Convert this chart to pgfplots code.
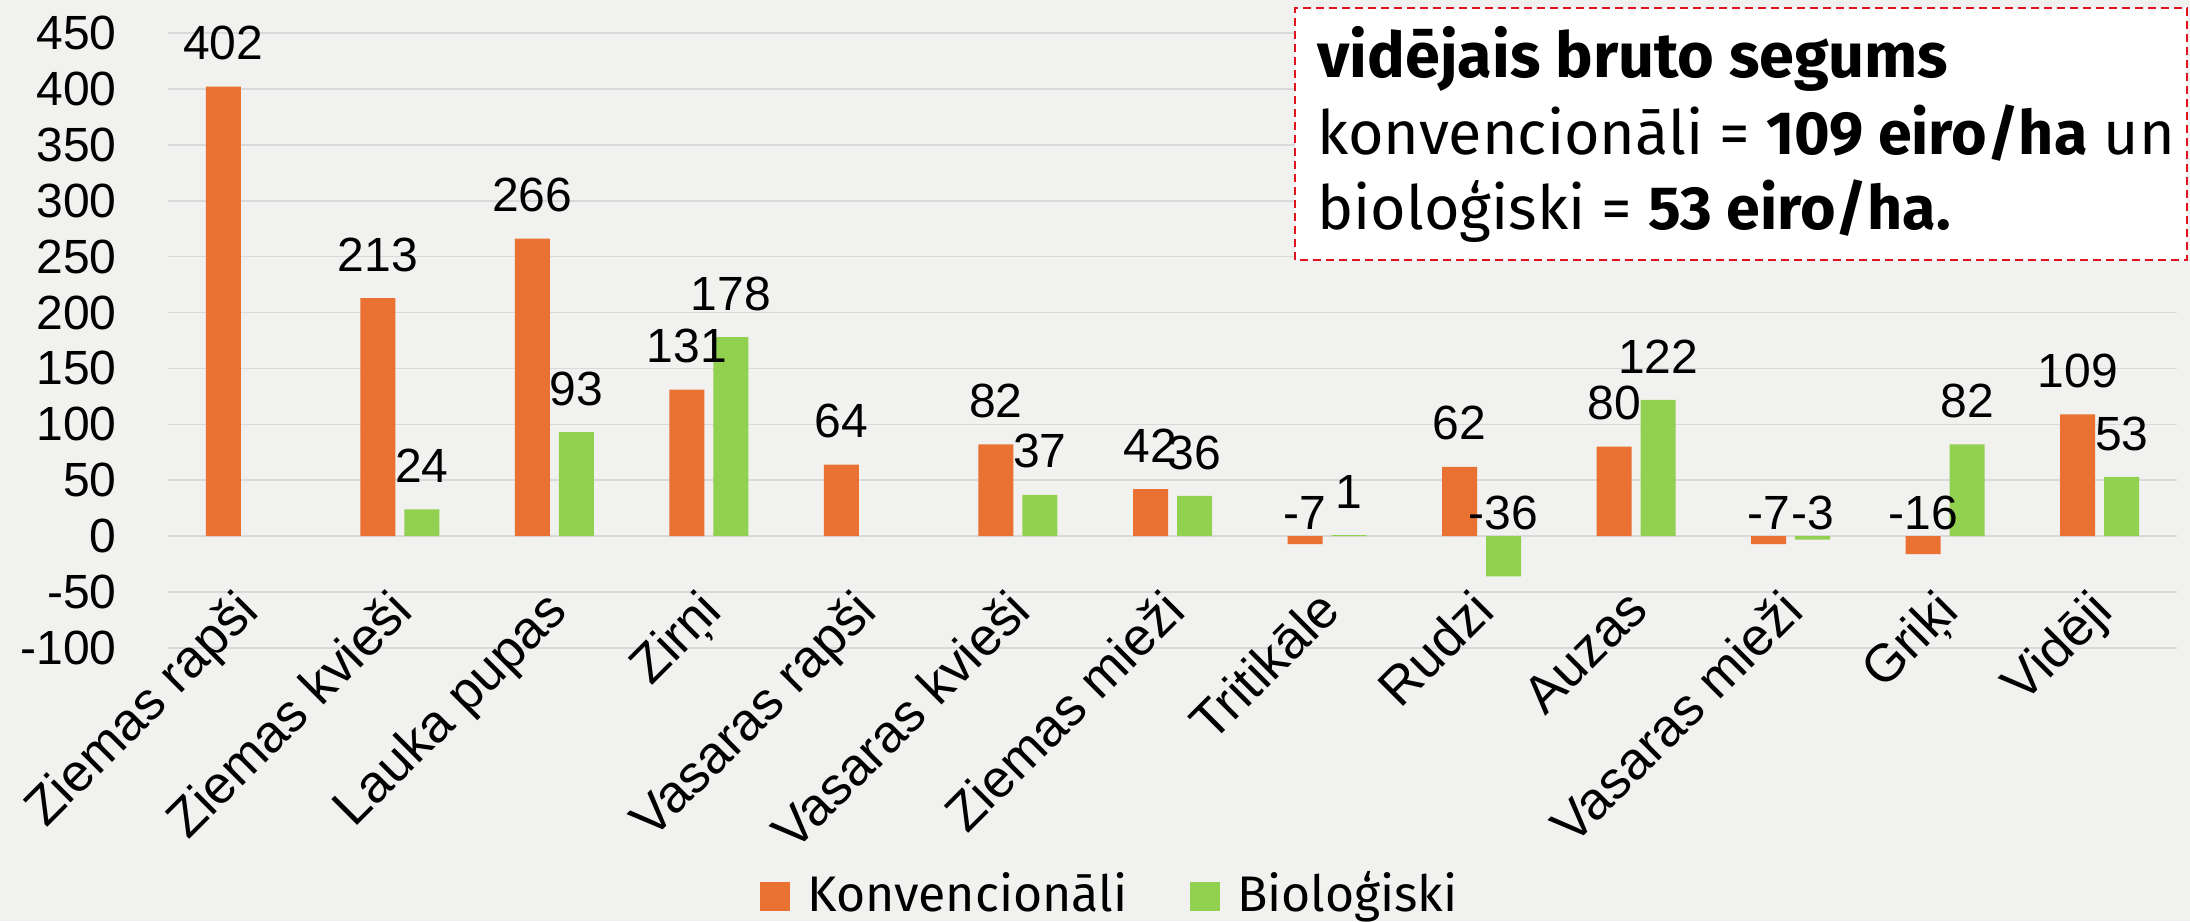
\documentclass[border=0pt]{standalone}
\usepackage{pgfplots}
\pgfplotsset{compat=1.18}
\usepackage{fontspec}
\setmainfont{Liberation Sans}
\newfontfamily\plex{Fira Sans}
\definecolor{konv}{HTML}{E97132}
\definecolor{bio}{HTML}{92D050}
\definecolor{bgc}{HTML}{F1F2EF}
\definecolor{gridc}{HTML}{D9D9D9}
\definecolor{boxred}{HTML}{E0141E}
\begin{document}
\begin{tikzpicture}
\fill[bgc] (-84pt,-136.5pt) rectangle (1011pt,324pt);
\begin{axis}[
  at={(0pt,0pt)}, anchor=south west,
  scale only axis, width=1004.5pt, height=307.5pt,
  xmin=-0.5, xmax=12.5, ymin=-100, ymax=450,
  ytick={-100,-50,...,450},
  xtick={0,...,12},
  xticklabels={Ziemas rapši, Ziemas kvieši, Lauka pupas, Zirņi, Vasaras rapši, Vasaras kvieši, Ziemas mieži, Tritikāle, Rudzi, Auzas, Vasaras mieži, Griķi, Vidēji},
  axis line style={draw=none},
  major tick length=0pt,
  ymajorgrids, grid style={draw=gridc, line width=0.8pt},
  /pgf/number format/assume math mode=true,
  yticklabel style={font=\fontsize{24}{28}\selectfont, anchor=east, inner sep=0pt, xshift=-25.5pt},
  xticklabel style={font=\fontsize{26.5}{28}\selectfont, inner sep=0pt, yshift=31pt, xshift=-6pt, rotate=45, anchor=north east},
  ybar=4.5pt, bar width=17.5pt,
  nodes near coords,
  visualization depends on={rawy \as \rawy},
  every node near coord/.append style={font=\fontsize{24}{28}\selectfont, text=black, anchor=south, inner sep=0pt, yshift={ifthenelse(\rawy<0,abs(\rawy)*0.5591+3,13)*1pt}},
  legend style={at={(0.4684,-0.4033)}, anchor=center, draw=none, fill=none, inner sep=0pt, legend columns=2,
    font=\plex\fontsize{25}{25}\selectfont,
    nodes={inner sep=0pt, text height=18pt, text depth=3pt},
    /tikz/every odd column/.append style={column sep=8.5pt},
    /tikz/every even column/.append style={column sep=31.5pt}},
]
\addplot[fill=konv, draw=none, legend image code/.code={\fill[konv] (0pt,-7.5pt) rectangle (15pt,7pt);}] coordinates {(0,402) (1,213) (2,266) (3,131) (4,64) (5,82) (6,42) (7,-7) (8,62) (9,80) (10,-7) (11,-16) (12,109)};
\addlegendentry{Konvencionāli}
\addplot[fill=bio, draw=none, legend image code/.code={\fill[bio] (0pt,-7.5pt) rectangle (15pt,7pt);}] coordinates {(1,24) (2,93) (3,178) (5,37) (6,36) (7,1) (8,-36) (9,122) (10,-3) (11,82) (12,53)};
\addlegendentry{Bioloģiski}
\end{axis}
\draw[boxred, line width=1pt, dash pattern=on 4pt off 2.5pt, fill=white] (563.5pt,194pt) rectangle (1009.5pt,320pt);
\node[anchor=base west, inner sep=0pt, font=\plex\fontsize{31.5}{31.5}\selectfont] at (574.5pt,285pt) {\bfseries vidējais bruto segums};
\node[anchor=base west, inner sep=0pt, font=\plex\fontsize{30.5}{30.5}\selectfont] at (574.5pt,246.5pt) {konvencionāli = \textbf{109 eiro/ha} un};
\node[anchor=base west, inner sep=0pt, font=\plex\fontsize{30.5}{30.5}\selectfont] at (574.5pt,209pt) {bioloģiski = \textbf{53 eiro/ha.}};
\pgfresetboundingbox
\path (-84pt,-136.5pt) rectangle (1011pt,324pt);
\end{tikzpicture}
\end{document}
